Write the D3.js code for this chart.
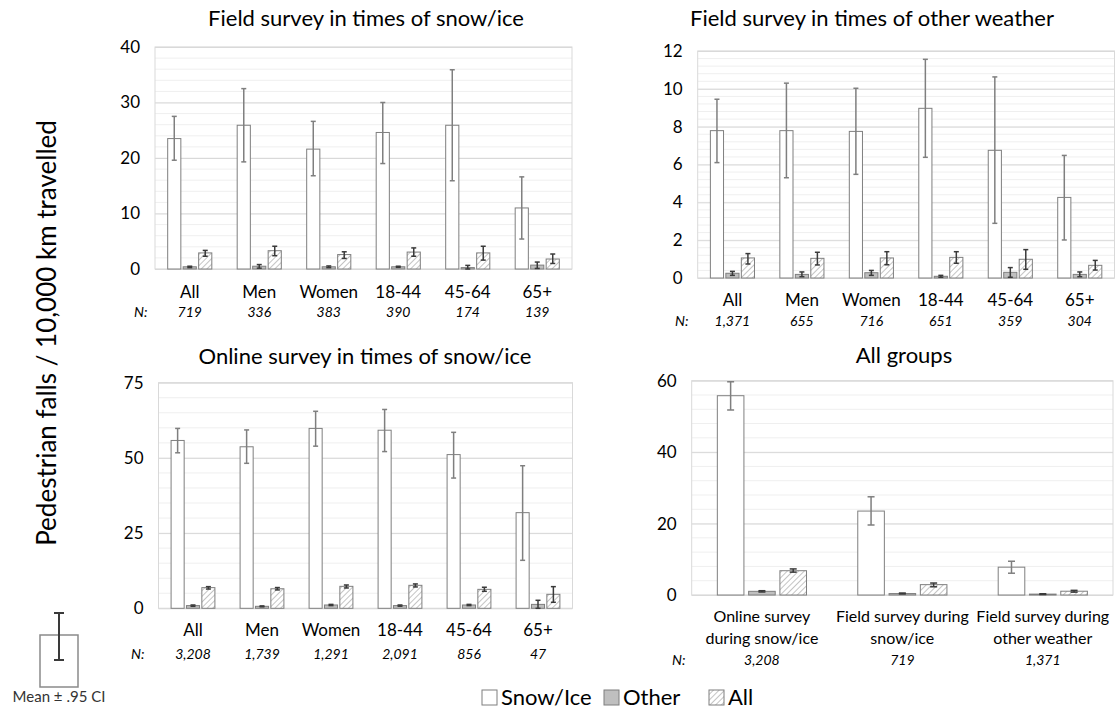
<!DOCTYPE html>
<html>
<head>
<meta charset="utf-8">
<script src="https://cdn.jsdelivr.net/npm/d3@7"></script>
<style>
  html, body { margin: 0; padding: 0; background: #fff; }
  svg { display: block; font-family: Lato, "Open Sans", sans-serif; }
</style>
</head>
<body>
<svg id="chart" width="1115" height="710"></svg>
<script>
// categories
const groupCats = ['All', 'Men', 'Women', '18-44', '45-64', '65+'];
const surveyCats = [['Online survey', 'during snow/ice'], ['Field survey during', 'snow/ice'], ['Field survey during', 'other weather']];
const seriesNames = ['Snow/Ice', 'Other', 'All'];

// sample sizes
const fieldSnowN = ['719', '336', '383', '390', '174', '139'];
const fieldOtherN = ['1,371', '655', '716', '651', '359', '304'];
const onlineSnowN = ['3,208', '1,739', '1,291', '2,091', '856', '47'];
const allGroupsN = ['3,208', '719', '1,371'];

// [mean, ci low, ci high] per category
const fieldSnowSnowIce = [[23.5, 19.6, 27.5], [25.9, 19.3, 32.5], [21.6, 16.8, 26.6], [24.6, 19.0, 30.0], [25.9, 15.9, 35.9], [11.0, 5.4, 16.6]];
const fieldSnowOther = [[0.4, 0.25, 0.5], [0.5, 0.15, 0.8], [0.4, 0.25, 0.55], [0.4, 0.3, 0.5], [0.25, 0, 0.65], [0.7, 0.1, 1.25]];
const fieldSnowAll = [[2.9, 2.3, 3.35], [3.3, 2.4, 4.1], [2.6, 1.9, 3.1], [3.05, 2.3, 3.8], [2.9, 1.6, 4.1], [1.8, 1.0, 2.7]];

const fieldOtherSnowIce = [[7.79, 6.1, 9.45], [7.79, 5.3, 10.3], [7.75, 5.48, 10.03], [8.97, 6.38, 11.56], [6.75, 2.89, 10.63], [4.26, 2.01, 6.48]];
const fieldOtherOther = [[0.25, 0.14, 0.35], [0.19, 0.07, 0.32], [0.28, 0.14, 0.4], [0.09, 0.04, 0.14], [0.3, 0.04, 0.55], [0.19, 0.07, 0.32]];
const fieldOtherAll = [[1.06, 0.74, 1.29], [1.04, 0.69, 1.36], [1.06, 0.7, 1.39], [1.09, 0.78, 1.39], [0.99, 0.46, 1.5], [0.67, 0.42, 0.93]];

const onlineSnowSnowIce = [[55.8, 51.7, 59.8], [53.7, 48.2, 59.3], [59.8, 53.9, 65.5], [59.2, 52.1, 66.1], [51.1, 43.3, 58.5], [31.8, 15.95, 47.4]];
const onlineSnowOther = [[0.9, 0.66, 1.1], [0.66, 0.5, 0.8], [1.1, 0.9, 1.3], [0.9, 0.7, 1.1], [1.1, 0.9, 1.3], [1.3, 0, 2.66]];
const onlineSnowAll = [[6.87, 6.4, 7.2], [6.5, 6.1, 6.9], [7.3, 6.76, 7.75], [7.64, 7.1, 8.1], [6.3, 5.65, 7.0], [4.65, 2.0, 7.2]];

const allGroupsSnowIce = [[55.8, 51.8, 59.7], [23.5, 19.6, 27.5], [7.79, 6.1, 9.45]];
const allGroupsOther = [[1.03, 0.84, 1.2], [0.4, 0.3, 0.55], [0.25, 0.14, 0.35]];
const allGroupsAll = [[6.8, 6.4, 7.3], [2.9, 2.3, 3.35], [1.06, 0.8, 1.3]];

// tick labels
const fieldSnowTicks = [0, 10, 20, 30, 40];
const fieldOtherTicks = [0, 2, 4, 6, 8, 10, 12];
const onlineSnowTicks = [0, 25, 50, 75];
const allGroupsTicks = [0, 20, 40, 60];

const svg = d3.select('#chart');
const defs = svg.append('defs');

const hatch = defs.append('pattern')
  .attr('id', 'hatch')
  .attr('patternUnits', 'userSpaceOnUse')
  .attr('width', 4).attr('height', 4)
  .attr('patternTransform', 'rotate(45)');
hatch.append('rect').attr('width', 4).attr('height', 4).attr('fill', '#fff');
hatch.append('line')
  .attr('x1', 0).attr('y1', 0).attr('x2', 0).attr('y2', 4)
  .attr('stroke', '#b5b5b5').attr('stroke-width', 1.6);

const fills = ['#fff', '#bfbfbf', 'url(#hatch)'];
const errColors = ['#7f7f7f', '#3a3a3a', '#3a3a3a'];

const panels = [
  { title: 'Field survey in times of snow/ice', titleX: 366, titleY: 26,
    x: [155, 572], y: [269, 47], max: 40, ticks: fieldSnowTicks,
    cats: groupCats, n: fieldSnowN, series: [fieldSnowSnowIce, fieldSnowOther, fieldSnowAll],
    labelDy: 29, nDy: 48, nX: 134, cap: 2.5, labelSize: 17 },
  { title: 'Field survey in times of other weather', titleX: 872, titleY: 26,
    x: [697.7, 1114.5], y: [278, 51], max: 12, ticks: fieldOtherTicks,
    cats: groupCats, n: fieldOtherN, series: [fieldOtherSnowIce, fieldOtherOther, fieldOtherAll],
    labelDy: 28, nDy: 48, nX: 675, cap: 2.5, labelSize: 17 },
  { title: 'Online survey in times of snow/ice', titleX: 365, titleY: 364,
    x: [158.5, 572.5], y: [608.3, 382.7], max: 75, ticks: onlineSnowTicks,
    cats: groupCats, n: onlineSnowN, series: [onlineSnowSnowIce, onlineSnowOther, onlineSnowAll],
    labelDy: 28, nDy: 51, nX: 131, cap: 2.5, labelSize: 17 },
  { title: 'All groups', titleX: 904, titleY: 363,
    x: [691.7, 1113], y: [595, 380.7], max: 60, ticks: allGroupsTicks,
    cats: surveyCats, n: allGroupsN, series: [allGroupsSnowIce, allGroupsOther, allGroupsAll],
    labelDy: 27, nDy: 70, nX: 672, cap: 3.5, labelSize: 16 }
];

panels.forEach(p => {
  const g = svg.append('g');

  const yScale = d3.scaleLinear().domain([0, p.max]).range(p.y);
  const x0 = d3.scaleBand().domain(d3.range(p.cats.length)).range(p.x).padding(0);
  const groupW = x0.bandwidth() * 0.635;
  const x1 = d3.scaleBand().domain(d3.range(3)).range([0, groupW]).paddingInner(0.15);

  // minor gridlines
  const step = p.ticks[1] - p.ticks[0];
  const minor = d3.range(0, p.max + 1e-9, step / 5);
  g.selectAll('.minor').data(minor).enter().append('line')
    .attr('x1', p.x[0]).attr('x2', p.x[1])
    .attr('y1', d => yScale(d)).attr('y2', d => yScale(d))
    .attr('stroke', '#efefef').attr('stroke-width', 1);

  // major gridlines
  const yAxis = d3.axisLeft(yScale).tickValues(p.ticks).tickSize(-(p.x[1] - p.x[0])).tickPadding(15);
  const ax = g.append('g').attr('transform', `translate(${p.x[0]},0)`).call(yAxis);
  ax.select('.domain').remove();
  ax.selectAll('.tick line').attr('stroke', '#d9d9d9');
  ax.selectAll('.tick text')
    .attr('font-size', 17).attr('fill', '#000')
    .attr('font-family', 'Lato, sans-serif');

  // plot border
  g.append('rect')
    .attr('x', p.x[0]).attr('y', p.y[1])
    .attr('width', p.x[1] - p.x[0]).attr('height', p.y[0] - p.y[1])
    .attr('fill', 'none').attr('stroke', '#d9d9d9');

  // bars
  p.series.forEach((s, si) => {
    const bx = i => x0(i) + (x0.bandwidth() - groupW) / 2 + x1(si);
    g.selectAll('.bar' + si).data(s).enter().append('rect')
      .attr('x', (d, i) => bx(i))
      .attr('y', d => yScale(d[0]))
      .attr('width', x1.bandwidth())
      .attr('height', d => yScale(0) - yScale(d[0]))
      .attr('fill', fills[si])
      .attr('stroke', '#7f7f7f').attr('stroke-width', 1);

    // error bars
    const eg = g.selectAll('.err' + si).data(s).enter().append('g')
      .attr('stroke', errColors[si]).attr('stroke-width', 1.5);
    const cx = i => bx(i) + x1.bandwidth() / 2;
    eg.append('line')
      .attr('x1', (d, i) => cx(i)).attr('x2', (d, i) => cx(i))
      .attr('y1', d => yScale(d[1])).attr('y2', d => yScale(d[2]));
    [1, 2].forEach(k => {
      eg.append('line')
        .attr('x1', (d, i) => cx(i) - p.cap).attr('x2', (d, i) => cx(i) + p.cap)
        .attr('y1', d => yScale(d[k])).attr('y2', d => yScale(d[k]));
    });
  });

  // category labels
  const base = p.y[0];
  p.cats.forEach((c, i) => {
    const lines = Array.isArray(c) ? c : [c];
    const t = g.append('text')
      .attr('x', x0(i) + x0.bandwidth() / 2)
      .attr('y', base + p.labelDy)
      .attr('text-anchor', 'middle')
      .attr('font-size', p.labelSize);
    lines.forEach((l, li) => {
      t.append('tspan')
        .attr('x', x0(i) + x0.bandwidth() / 2)
        .attr('dy', li === 0 ? 0 : 22)
        .text(l);
    });
  });

  // N row
  g.append('text')
    .attr('x', p.nX).attr('y', base + p.nDy)
    .attr('font-size', 14).attr('font-style', 'italic')
    .text('N:');
  g.selectAll('.nval').data(p.n).enter().append('text')
    .attr('x', (d, i) => x0(i) + x0.bandwidth() / 2)
    .attr('y', base + p.nDy)
    .attr('text-anchor', 'middle')
    .attr('font-size', 14).attr('font-style', 'italic')
    .text(d => d);

  // title
  g.append('text')
    .attr('x', p.titleX).attr('y', p.titleY)
    .attr('text-anchor', 'middle')
    .attr('font-size', 22)
    .text(p.title);
});

// y axis title
svg.append('text')
  .attr('transform', 'translate(56,333) rotate(-90)')
  .attr('text-anchor', 'middle')
  .attr('font-size', 26)
  .text('Pedestrian falls / 10,000 km travelled');

// mean ± CI key
const key = svg.append('g');
key.append('rect')
  .attr('x', 40).attr('y', 635).attr('width', 38).attr('height', 52)
  .attr('fill', '#fff').attr('stroke', '#8a8a8a').attr('stroke-width', 1.5);
key.append('line').attr('x1', 59).attr('x2', 59).attr('y1', 613).attr('y2', 660)
  .attr('stroke', '#3a3a3a').attr('stroke-width', 2);
[613, 660].forEach(yy => {
  key.append('line').attr('x1', 54).attr('x2', 64).attr('y1', yy).attr('y2', yy)
    .attr('stroke', '#3a3a3a').attr('stroke-width', 2);
});
key.append('text')
  .attr('x', 59).attr('y', 702)
  .attr('text-anchor', 'middle')
  .attr('font-size', 15)
  .attr('fill', '#333')
  .text('Mean ± .95 CI');

// series legend
const legendX = [482, 604, 709];
const legend = svg.append('g');
seriesNames.forEach((name, i) => {
  legend.append('rect')
    .attr('x', legendX[i]).attr('y', 690)
    .attr('width', 15).attr('height', 15)
    .attr('fill', fills[i]).attr('stroke', '#7f7f7f').attr('stroke-width', 1);
  legend.append('text')
    .attr('x', legendX[i] + 19).attr('y', 705)
    .attr('font-size', 22)
    .text(name);
});
</script>
</body>
</html>
